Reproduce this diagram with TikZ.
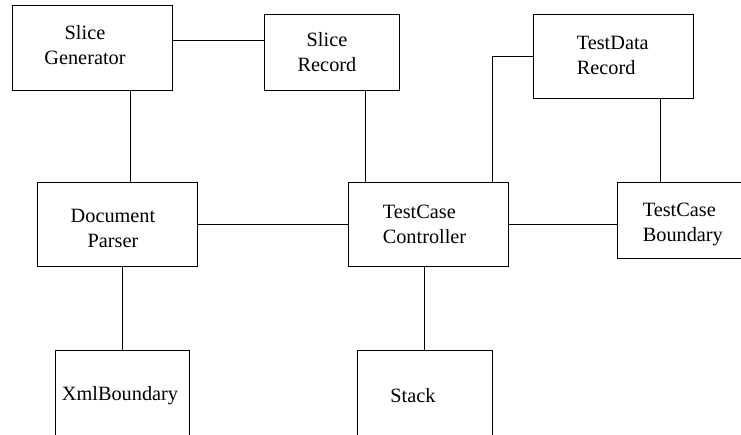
\documentclass[tikz,border=0pt]{standalone}
\usepackage{fontspec}
\setmainfont{Liberation Serif}
\tikzset{
  blk/.style={draw, line width=0.8pt, inner sep=0pt},
  lbl/.style={inner sep=0pt, align=center},
  lnk/.style={line width=0.8pt},
}
\begin{document}
\begin{tikzpicture}[x=1pt,y=-1pt]
  \clip (0,0) rectangle (741,434);
  {\fontsize{20.3pt}{25pt}\selectfont

  % Marking box Slice Generator
  \node [blk, minimum width=160pt, minimum height=85pt,
         label={[lbl, xshift=-7pt, yshift=2pt]center:{Slice\\Generator}}] (sg) at (92.0,47.5) {};

  % Marking box Slice Record
  \node [blk, minimum width=135pt, minimum height=76pt,
         label={[lbl, xshift=-4.5pt]center:{Slice\\Record}}] (sr) at (331.5,52.0) {};

  % Marking box TestData Record
  \node [blk, minimum width=160pt, minimum height=84pt,
         label={[lbl, align=left, anchor=west, xshift=44pt, yshift=1pt]west:{TestData\\Record}}] (tdr) at (613.0,56.0) {};

  % Marking box Document Parser
  \node [blk, minimum width=160pt, minimum height=84pt,
         label={[lbl, xshift=-4pt, yshift=-4pt]center:{Document\\Parser}}] (dp) at (117.0,224.0) {};

  % Marking box TestCase Controller
  \node [blk, minimum width=160pt, minimum height=84pt,
         label={[lbl, align=left, anchor=west, xshift=35pt]west:{TestCase\\Controller}}] (tcc) at (428.0,224.0) {};

  % Marking box TestCase Boundary
  \node [blk, minimum width=160pt, minimum height=76pt,
         label={[lbl, align=left, anchor=west, xshift=26pt, yshift=-4pt]west:{TestCase\\Boundary}}] (tcb) at (697.0,220.0) {};

  % Marking box XmlBoundary
  \node [blk, minimum width=134pt, minimum height=85pt,
         label={[lbl, xshift=-2pt, yshift=-3pt]center:{XmlBoundary}}] (xb) at (122.0,392.5) {};

  % Marking box Stack
  \node [blk, minimum width=135pt, minimum height=85pt,
         label={[lbl, xshift=-11.5pt, yshift=-3pt]center:{Stack}}] (st) at (424.5,392.5) {};

  % Drawing line Slice Generator -- Slice Record
  \draw [lnk] ([yshift=7.5pt]sg.east) -- ([yshift=7.5pt]sg.east -| sr.west);

  % Drawing line Slice Generator -- Document Parser
  \draw [lnk] ([xshift=38pt]sg.south) -- ([xshift=38pt]sg.south |- dp.north);

  % Drawing line Slice Record -- TestCase Controller
  \draw [lnk] ([xshift=33.5pt]sr.south) -- ([xshift=33.5pt]sr.south |- tcc.north);

  % Drawing line TestData Record -- TestCase Controller
  \draw [lnk] (tdr.west) -| ([xshift=64pt]tcc.north);

  % Drawing line TestData Record -- TestCase Boundary
  \draw [lnk] ([xshift=47pt]tdr.south) -- ([xshift=47pt]tdr.south |- tcb.north);

  % Drawing line Document Parser -- TestCase Controller
  \draw [lnk] (dp.east) -- (tcc.west);

  % Drawing line TestCase Controller -- TestCase Boundary
  \draw [lnk] (tcc.east) -- (tcc.east -| tcb.west);

  % Drawing line Document Parser -- XmlBoundary
  \draw [lnk] (xb.north |- dp.south) -- (xb.north);

  % Drawing line TestCase Controller -- Stack
  \draw [lnk] (st.north |- tcc.south) -- (st.north);
  }
\end{tikzpicture}
\end{document}
